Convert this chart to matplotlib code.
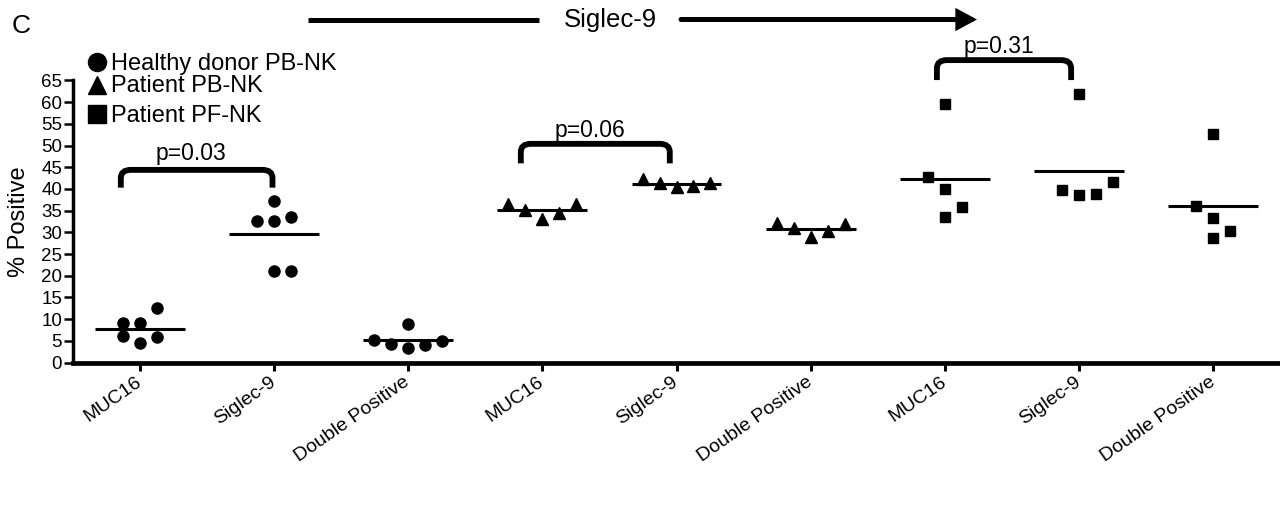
import numpy as np
import matplotlib.pyplot as plt
from matplotlib.lines import Line2D
from matplotlib.path import Path
from matplotlib.patches import PathPatch, FancyArrowPatch

plt.rcParams['font.family'] = ['Liberation Sans', 'DejaVu Sans']

# categories on the x axis
tick_labels = ['MUC16', 'Siglec-9', 'Double Positive'] * 3
group_names = ['Healthy donor PB-NK', 'Patient PB-NK', 'Patient PF-NK']
group_markers = ['o', '^', 's']

# % positive
hd_muc16 = [9.0, 9.0, 12.6, 6.0, 4.5, 5.9]
hd_siglec9 = [37.2, 32.5, 32.5, 33.6, 21.0, 21.0]
hd_double = [5.3, 4.3, 8.9, 3.3, 4.0, 5.0]
pb_muc16 = [36.5, 35.2, 33.0, 34.4, 36.5]
pb_siglec9 = [42.3, 41.3, 40.5, 40.7, 41.3]
pb_double = [32.1, 31.1, 29.0, 30.3, 31.9]
pf_muc16 = [59.5, 42.8, 39.9, 35.8, 33.5]
pf_siglec9 = [61.9, 39.8, 38.5, 38.8, 41.7]
pf_double = [52.6, 36.1, 33.2, 30.3, 28.6]

# dot column within each scatter (as laid out in the original)
hd_muc16_col = [-1, 0, 1, -1, 0, 1]
hd_siglec9_col = [0, -1, 0, 1, 0, 1]
hd_double_col = [-2, -1, 0, 0, 1, 2]
pb_col = [-2, -1, 0, 1, 2]
pf_muc16_col = [0, -1, 0, 1, 0]
pf_siglec9_col = [0, -1, 0, 1, 2]
pf_double_col = [0, -1, 0, 1, 0]

columns = [
    (hd_muc16, hd_muc16_col, 0), (hd_siglec9, hd_siglec9_col, 0), (hd_double, hd_double_col, 0),
    (pb_muc16, pb_col, 1), (pb_siglec9, pb_col, 1), (pb_double, pb_col, 1),
    (pf_muc16, pf_muc16_col, 2), (pf_siglec9, pf_siglec9_col, 2), (pf_double, pf_double_col, 2),
]

# p-value brackets
p_labels = ['p=0.03', 'p=0.06', 'p=0.31']
br_x1 = [0.86, 3.84, 6.94]
br_x2 = [1.99, 4.95, 7.94]
br_base = [40.3, 45.9, 65.1]
br_top = [44.4, 50.4, 69.7]
p_x = [1.385, 4.357, 7.40]
p_y = [46.7, 52.0, 71.4]

W, H = 1280, 509
fig = plt.figure(figsize=(W / 100, H / 100), dpi=100)
ax = fig.add_axes([72.5 / W, 1 - 362.5 / H, 1208 / W, 282 / H])

msize = {'o': 8, '^': 8.5, 's': 7.6}
dx = 0.126
for i, (vals, cols, g) in enumerate(columns):
    pos = i + 1
    m = group_markers[g]
    ax.plot(pos + dx * np.array(cols), vals, ls='none', marker=m, ms=msize[m],
            color='k', clip_on=False, zorder=3)
    ax.hlines(np.mean(vals), pos - 0.335, pos + 0.335, color='k', lw=2.2, zorder=2)

for k in range(len(p_labels)):
    x1, x2, yb, yt = br_x1[k], br_x2[k], br_base[k], br_top[k]
    rx, ry = 0.075, 1.9
    verts = [(x1, yb), (x1, yt - ry), (x1, yt), (x1 + rx, yt), (x2 - rx, yt),
             (x2, yt), (x2, yt - ry), (x2, yb)]
    codes = [Path.MOVETO, Path.LINETO, Path.CURVE3, Path.CURVE3, Path.LINETO,
             Path.CURVE3, Path.CURVE3, Path.LINETO]
    ax.add_patch(PathPatch(Path(verts, codes), fill=False, lw=4.2, color='k',
                           capstyle='butt', clip_on=False))
    ax.text(p_x[k], p_y[k], p_labels[k], ha='center', va='baseline', fontsize=16.5)

ax.set_xlim(0.5, 9.5)
ax.set_ylim(0, 65)
ax.set_yticks(np.arange(0, 66, 5))
ax.set_xticks(np.arange(1, 10))
ax.set_xticklabels(tick_labels, rotation=35, ha='right', va='center',
                   rotation_mode='anchor', fontsize=14)
ax.tick_params(axis='y', labelsize=13.5, length=6.5, width=1.8, pad=1)
ax.tick_params(axis='x', length=6, width=2.2, pad=7)
for s in ['top', 'right']:
    ax.spines[s].set_visible(False)
ax.spines['left'].set_linewidth(2.5)
ax.spines['bottom'].set_linewidth(3.4)

fig.text(19 / W, 1 - 222 / H, '% Positive', rotation=90, ha='center', va='center', fontsize=17)
fig.text(12 / W, 1 - 33 / H, 'C', fontsize=19)

# legend
leg_base = [70, 92.5, 121.5]
for k, name in enumerate(group_names):
    yb = leg_base[k]
    fig.add_artist(Line2D([97 / W], [1 - (yb - 7.5) / H], transform=fig.transFigure,
                          marker=group_markers[k], ms=13 if k == 0 else 12.5, color='k', ls='none'))
    fig.text(111 / W, 1 - yb / H, name, fontsize=17, va='baseline')

# top Siglec-9 arrow
yl = 1 - 19.5 / H
fig.add_artist(Line2D([308 / W, 539 / W], [yl, yl], transform=fig.transFigure,
                      lw=3.6, color='k', solid_capstyle='butt'))
fig.add_artist(FancyArrowPatch((681 / W, yl), (977 / W, yl), transform=fig.transFigure,
                               arrowstyle='-|>,head_length=0.5,head_width=0.27',
                               mutation_scale=20, lw=3.6, color='k',
                               shrinkA=0, shrinkB=0, joinstyle='miter'))
fig.text(610 / W, yl, 'Siglec-9', ha='center', va='center', fontsize=18.5)

fig.savefig('out.png', dpi=100)
